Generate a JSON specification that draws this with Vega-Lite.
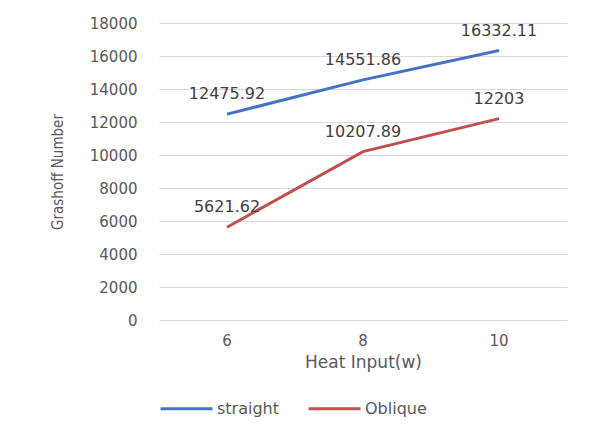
{
  "$schema": "https://vega.github.io/schema/vega-lite/v6.json",
  "autosize": "none",
  "width": 408,
  "height": 297,
  "padding": {"left": 159, "top": 23, "right": 23, "bottom": 111},
  "background": "white",
  "config": {
    "view": {"stroke": null},
    "font": "DejaVu Sans",
    "axis": {"labelColor": "#595959", "titleColor": "#595959", "labelFontSize": 15, "labelFont": "DejaVu Sans"}
  },
  "data": {
    "values": [
      {"heat": 6, "series": "straight", "gr": 12475.92, "lab": "12475.92"},
      {"heat": 8, "series": "straight", "gr": 14551.86, "lab": "14551.86"},
      {"heat": 10, "series": "straight", "gr": 16332.11, "lab": "16332.11"},
      {"heat": 6, "series": "Oblique", "gr": 5621.62, "lab": "5621.62"},
      {"heat": 8, "series": "Oblique", "gr": 10207.89, "lab": "10207.89"},
      {"heat": 10, "series": "Oblique", "gr": 12203, "lab": "12203"}
    ]
  },
  "encoding": {
    "x": {
      "field": "heat", "type": "ordinal", "sort": [6, 8, 10],
      "scale": {"type": "band", "paddingInner": 0, "paddingOuter": 0},
      "axis": {"title": "Heat Input(w)", "labelAngle": 0, "domain": false, "ticks": false, "labelPadding": 13, "titleFontSize": 17, "titleFont": "DejaVu Sans", "titlePadding": 6, "titleFontWeight": "normal"}
    },
    "y": {
      "field": "gr", "type": "quantitative",
      "scale": {"domain": [0, 18000]},
      "axis": {"title": "Grashoff Number", "values": [0,2000,4000,6000,8000,10000,12000,14000,16000,18000], "domain": false, "ticks": false, "labelPadding": 22, "gridColor": "#d9d9d9", "titleFont": "DejaVu Sans Condensed, Liberation Sans", "titleFontSize": 15, "titleFontWeight": "normal", "titlePadding": 24, "format": "d"}
    }
  },
  "layer": [
    {
      "mark": {"type": "line", "strokeWidth": 3},
      "encoding": {
        "color": {
          "field": "series", "type": "nominal",
          "scale": {"domain": ["straight", "Oblique"], "range": ["#4472C4", "#C0504D"]},
          "legend": {"title": null, "orient": "none", "direction": "horizontal", "legendX": 0, "legendY": 358, "symbolType": "stroke", "symbolSize": 2700, "symbolStrokeWidth": 3, "labelFontSize": 16, "labelFont": "DejaVu Sans", "labelColor": "#595959", "columnPadding": 22, "labelOffset": 3, "padding": 0}
        }
      }
    },
    {
      "mark": {"type": "text", "dy": -20, "fontSize": 16, "font": "DejaVu Sans", "color": "#404040"},
      "encoding": {"text": {"field": "lab"}}
    }
  ]
}
